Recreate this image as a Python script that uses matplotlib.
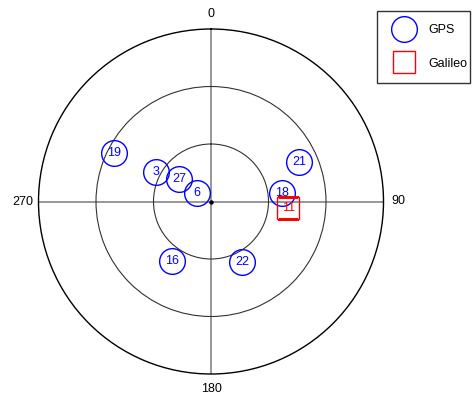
import numpy as np
import matplotlib
matplotlib.use("Agg")
import matplotlib.pyplot as plt
from matplotlib.lines import Line2D
from matplotlib.legend_handler import HandlerLine2D

plt.rcParams['font.family'] = ['Liberation Sans', 'DejaVu Sans']

# GPS satellites: PRN, azimuth (deg), elevation (deg)
gps_prn = ["19", "3", "27", "6", "18", "21", "16", "22"]
gps_az = [296.7, 298.4, 305.4, 299.2, 83.5, 65.9, 213.0, 152.7]
gps_el = [33.4, 57.4, 69.5, 81.4, 52.9, 39.7, 52.9, 54.4]

# Galileo satellites
gal_prn = ["11"]
gal_az = [95.0]
gal_el = [49.5]

ring_levels = [30, 60]
az_ticks = [0, 90, 180, 270]

W, H = 473, 397
fig = plt.figure(figsize=(W / 100, H / 100), dpi=100)
cx, cy, R = 211, 201.5, 172.5
ax = fig.add_axes([(cx - R) / W, (H - cy - R) / H, 2 * R / W, 2 * R / H],
                  projection='polar')
ax.set_theta_zero_location('N')
ax.set_theta_direction(-1)
ax.set_ylim(0, 90)

ax.set_yticks(ring_levels)
ax.set_yticklabels([])
ax.yaxis.grid(True, color='#333333', linewidth=0.8, linestyle='-')
ax.set_xticks(np.radians(az_ticks))
ax.set_xticklabels([str(a) for a in az_ticks], fontsize=9)
ax.tick_params(axis='x', pad=4, length=0)
ax.xaxis.grid(True, color='#7a7a7a', linewidth=1.1, linestyle='-')
ax.spines['polar'].set_color('black')
ax.spines['polar'].set_linewidth(1.0)

# center dot
ax.plot([0], [0], 'o', color='black', markersize=2.2, zorder=5)


def zen(el):
    return 90 - np.asarray(el, dtype=float)


th = np.radians(gps_az)
rr = zen(gps_el)
ax.plot(th, rr, linestyle='none', marker='o', markersize=18.5,
        markerfacecolor='none', markeredgecolor='blue', markeredgewidth=1.0,
        zorder=6)
for t, r, p in zip(th, rr, gps_prn):
    ax.text(t, r, p, color='blue', fontsize=9, ha='center', va='center',
            zorder=7)

thg = np.radians(gal_az)
rg = zen(gal_el)
ax.plot(thg, rg, linestyle='none', marker='s', markersize=15.5,
        markerfacecolor='none', markeredgecolor='red', markeredgewidth=1.0,
        zorder=6)
for t, r, p in zip(thg, rg, gal_prn):
    ax.text(t, r, p, color='red', fontsize=9, ha='center', va='center',
            zorder=7)


class CenteredMarkerHandler(HandlerLine2D):
    """Lowers the legend marker so it sits level with its label."""

    def __init__(self, dy=0.0, **kw):
        super().__init__(**kw)
        self.dy = dy

    def create_artists(self, legend, orig_handle, xdescent, ydescent,
                       width, height, fontsize, trans):
        arts = super().create_artists(legend, orig_handle, xdescent,
                                      ydescent, width, height, fontsize,
                                      trans)
        for a in arts:
            a.set_ydata(np.asarray(a.get_ydata(), dtype=float) - self.dy)
        return arts


handles = [
    Line2D([], [], linestyle='none', marker='o', markersize=18.5,
           markerfacecolor='none', markeredgecolor='blue', label='GPS'),
    Line2D([], [], linestyle='none', marker='s', markersize=15.5,
           markerfacecolor='none', markeredgecolor='red', label='Galileo'),
]
leg = fig.legend(handles=handles, loc='upper left',
                 bbox_to_anchor=(376.5 / W, 1 - 10.5 / H), fontsize=9,
                 frameon=True, fancybox=False, borderpad=0.22,
                 labelspacing=0.0, handleheight=3.75, handlelength=3.88,
                 handletextpad=0.06, borderaxespad=0,
                 handler_map={Line2D: CenteredMarkerHandler(dy=4.0)})
leg.get_frame().set_edgecolor('black')
leg.get_frame().set_linewidth(1.0)

fig.savefig('out.png', dpi=100)
